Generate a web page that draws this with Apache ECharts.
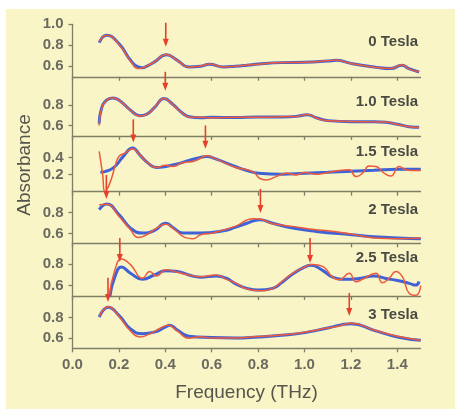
<!DOCTYPE html>
<html>
<head>
<meta charset="utf-8">
<script src="https://cdn.jsdelivr.net/npm/echarts@6/dist/echarts.min.js"></script>
<style>
  html, body { margin: 0; padding: 0; background: #fff; }
  #chart { width: 455px; height: 409px; }
</style>
</head>
<body>
<div id="chart"></div>
<script>
// panel labels
const panelNames = ['0 Tesla', '1.0 Tesla', '1.5 Tesla', '2 Tesla', '2.5 Tesla', '3 Tesla'];

// x ticks (THz)
const xTicks = [0, 0.2, 0.4, 0.6, 0.8, 1.0, 1.2, 1.4];

// y ticks / ranges for each panel
const yTicks = [[0.6, 0.8, 1.0], [0.6, 0.8], [0.2, 0.4], [0.6, 0.8], [0.6, 0.8], [0.6, 0.8]];
const yMin = [0.5, 0.5, 0, 0.509, 0.504, 0.503];
const yMax = [1.0, 1.07, 0.65, 1.0, 0.996, 1.01];

// fit curves (blue) and measured data (red), [freq, absorbance]
const fit0T = [[0.115,0.825],[0.147,0.895],[0.2,0.816],[0.25,0.657],[0.283,0.594],[0.302,0.587],[0.319,0.6],[0.352,0.64],[0.405,0.71],[0.452,0.657],[0.502,0.594],[0.552,0.6],[0.59,0.62],[0.651,0.594],[0.701,0.6],[0.752,0.61],[0.802,0.622],[0.902,0.635],[1.002,0.638],[1.1,0.65],[1.136,0.657],[1.2,0.628],[1.3,0.594],[1.372,0.578],[1.42,0.61],[1.45,0.578],[1.494,0.546]];
const data0T = [[0.115,0.83],[0.147,0.895],[0.2,0.81],[0.25,0.65],[0.283,0.578],[0.302,0.584],[0.319,0.6],[0.352,0.64],[0.405,0.712],[0.452,0.655],[0.502,0.592],[0.552,0.602],[0.59,0.622],[0.651,0.594],[0.701,0.6],[0.752,0.612],[0.802,0.62],[0.902,0.636],[1.002,0.638],[1.1,0.652],[1.136,0.66],[1.2,0.626],[1.3,0.592],[1.372,0.578],[1.42,0.614],[1.45,0.576],[1.494,0.546]];

const fit1T = [[0.115,0.62],[0.125,0.765],[0.147,0.845],[0.173,0.867],[0.201,0.845],[0.25,0.749],[0.29,0.695],[0.319,0.708],[0.352,0.77],[0.395,0.86],[0.433,0.803],[0.476,0.717],[0.502,0.686],[0.552,0.676],[0.601,0.68],[0.701,0.678],[0.802,0.683],[0.902,0.683],[0.964,0.689],[1.013,0.705],[1.05,0.676],[1.101,0.648],[1.202,0.638],[1.3,0.638],[1.351,0.632],[1.401,0.613],[1.451,0.59],[1.494,0.584]];
const data1T = [[0.115,0.6],[0.125,0.76],[0.147,0.845],[0.173,0.868],[0.201,0.843],[0.25,0.748],[0.29,0.692],[0.319,0.706],[0.352,0.77],[0.395,0.862],[0.433,0.8],[0.476,0.715],[0.502,0.684],[0.552,0.68],[0.601,0.676],[0.701,0.68],[0.802,0.68],[0.902,0.686],[0.964,0.688],[1.013,0.708],[1.05,0.674],[1.101,0.646],[1.202,0.64],[1.3,0.636],[1.351,0.634],[1.401,0.61],[1.451,0.59],[1.494,0.582]];

const fit15T = [[0.12,0.227],[0.15,0.243],[0.183,0.294],[0.219,0.412],[0.259,0.51],[0.29,0.43],[0.326,0.333],[0.362,0.282],[0.402,0.294],[0.452,0.325],[0.502,0.365],[0.552,0.4],[0.577,0.41],[0.62,0.38],[0.701,0.294],[0.752,0.247],[0.802,0.216],[0.902,0.204],[1.002,0.216],[1.101,0.227],[1.202,0.24],[1.3,0.25],[1.401,0.263],[1.501,0.263]];
const data15T = [[0.115,0.47],[0.13,0.2],[0.14,0.0],[0.161,0.1],[0.183,0.29],[0.2,0.41],[0.226,0.45],[0.259,0.5],[0.29,0.43],[0.326,0.333],[0.362,0.282],[0.402,0.31],[0.433,0.294],[0.476,0.341],[0.519,0.353],[0.552,0.39],[0.577,0.42],[0.62,0.38],[0.701,0.286],[0.777,0.235],[0.806,0.157],[0.835,0.137],[0.878,0.176],[0.921,0.216],[0.964,0.196],[1.002,0.224],[1.05,0.204],[1.101,0.224],[1.15,0.247],[1.193,0.255],[1.222,0.176],[1.25,0.216],[1.279,0.3],[1.308,0.294],[1.343,0.216],[1.372,0.184],[1.408,0.294],[1.437,0.255],[1.465,0.247],[1.501,0.247]];

const fit2T = [[0.115,0.829],[0.147,0.883],[0.201,0.78],[0.25,0.654],[0.302,0.606],[0.352,0.629],[0.402,0.70],[0.433,0.66],[0.476,0.606],[0.552,0.606],[0.651,0.629],[0.701,0.66],[0.752,0.70],[0.806,0.733],[0.863,0.70],[0.949,0.654],[1.05,0.622],[1.202,0.59],[1.3,0.571],[1.401,0.559],[1.501,0.552]];
const data2T = [[0.115,0.875],[0.147,0.88],[0.201,0.765],[0.25,0.638],[0.283,0.565],[0.319,0.59],[0.362,0.654],[0.402,0.69],[0.441,0.638],[0.484,0.565],[0.519,0.552],[0.552,0.59],[0.601,0.606],[0.701,0.67],[0.777,0.743],[0.806,0.74],[0.863,0.695],[0.949,0.67],[1.05,0.638],[1.101,0.629],[1.202,0.597],[1.3,0.559],[1.401,0.552],[1.501,0.559]];

const fit25T = [[0.161,0.5],[0.183,0.686],[0.211,0.775],[0.25,0.717],[0.302,0.66],[0.352,0.70],[0.402,0.74],[0.452,0.733],[0.502,0.70],[0.552,0.68],[0.62,0.69],[0.663,0.67],[0.701,0.62],[0.752,0.575],[0.802,0.559],[0.863,0.575],[0.902,0.629],[0.949,0.71],[1.002,0.775],[1.028,0.79],[1.078,0.743],[1.121,0.68],[1.179,0.66],[1.236,0.668],[1.3,0.69],[1.351,0.668],[1.401,0.648],[1.451,0.622],[1.48,0.606],[1.494,0.64]];
const data25T = [[0.158,0.5],[0.183,0.75],[0.211,0.85],[0.25,0.797],[0.302,0.67],[0.333,0.733],[0.362,0.69],[0.402,0.75],[0.452,0.725],[0.502,0.70],[0.552,0.684],[0.62,0.70],[0.663,0.659],[0.701,0.628],[0.752,0.569],[0.806,0.553],[0.863,0.575],[0.902,0.638],[0.949,0.716],[1.002,0.775],[1.035,0.797],[1.078,0.78],[1.121,0.68],[1.15,0.656],[1.193,0.716],[1.222,0.638],[1.25,0.66],[1.308,0.716],[1.336,0.628],[1.365,0.669],[1.394,0.733],[1.422,0.684],[1.451,0.53],[1.48,0.51],[1.501,0.6]];

const fit3T = [[0.115,0.806],[0.154,0.9],[0.201,0.82],[0.25,0.69],[0.302,0.645],[0.352,0.66],[0.402,0.71],[0.419,0.726],[0.452,0.68],[0.502,0.62],[0.601,0.607],[0.701,0.603],[0.802,0.613],[0.902,0.629],[1.002,0.655],[1.101,0.70],[1.202,0.742],[1.3,0.677],[1.401,0.613],[1.501,0.58]];
const data3T = [[0.115,0.81],[0.154,0.905],[0.201,0.81],[0.25,0.67],[0.29,0.613],[0.33,0.64],[0.38,0.70],[0.413,0.726],[0.452,0.67],[0.502,0.6],[0.55,0.615],[0.601,0.603],[0.701,0.603],[0.802,0.618],[0.902,0.632],[1.002,0.66],[1.101,0.70],[1.15,0.72],[1.202,0.745],[1.3,0.68],[1.401,0.62],[1.501,0.58]];

// red arrows per panel: [freq, tail, tip]
const arrows0T = [[0.402, 1.015, 0.787]];
const arrows1T = [[0.400, 1.118, 0.935]];
const arrows15T = [[0.262, 0.844, 0.573], [0.573, 0.773, 0.502]];
const arrows2T = [[0.146, 1.159, 0.931], [0.81, 1.026, 0.798]];
const arrows25T = [[0.204, 1.046, 0.822], [1.024, 1.046, 0.812]];
const arrows3T = [[0.153, 1.186, 0.952], [1.193, 1.04, 0.817]];

const fits = [fit0T, fit1T, fit15T, fit2T, fit25T, fit3T];
const meas = [data0T, data1T, data15T, data2T, data25T, data3T];
const arrows = [arrows0T, arrows1T, arrows15T, arrows2T, arrows25T, arrows3T];

const edges = [24.3, 76.8, 136, 191.7, 243.3, 296, 348.3];
const labelY = [41.7, 101.7, 151.7, 210, 257.7, 315];

const axisColor = '#7f7f68';
const textColor = '#55554c';
const font = 'Liberation Sans, Arial, sans-serif';
const arrowColor = '#e6402a';

const myChart = echarts.init(document.getElementById('chart'));

const grid = [], xAxis = [], yAxis = [], series = [];
for (let i = 0; i < 6; i++) {
  const last = i === 5;
  grid.push({ left: 72.5, width: 348, top: edges[i], height: edges[i + 1] - edges[i] });
  xAxis.push({
    type: 'value', gridIndex: i, min: 0, max: 1.5,
    axisLine: { lineStyle: { color: axisColor, width: 1.3 } },
    axisTick: { length: 4, lineStyle: { color: axisColor, width: 1.3 }, customValues: xTicks },
    axisLabel: {
      show: last, customValues: xTicks, margin: 9,
      formatter: (v) => v.toFixed(1),
      color: '#6a6a60', fontSize: 15, fontWeight: 'bold', fontFamily: font
    },
    splitLine: { show: false },
    name: last ? 'Frequency (THz)' : '',
    nameLocation: 'middle', nameGap: 35,
    nameTextStyle: { color: textColor, fontSize: 19, fontFamily: font }
  });
  yAxis.push({
    type: 'value', gridIndex: i, min: yMin[i], max: yMax[i],
    axisLine: { show: true, lineStyle: { color: axisColor, width: 1.3 } },
    axisTick: { show: true, length: 4, lineStyle: { color: axisColor, width: 1.3 }, customValues: yTicks[i] },
    axisLabel: {
      customValues: yTicks[i], margin: 9,
      formatter: (v) => v.toFixed(1),
      color: '#6a6a60', fontSize: 15, fontWeight: 'bold', fontFamily: font
    },
    splitLine: { show: false }
  });
  series.push({
    type: 'line', xAxisIndex: i, yAxisIndex: i, data: fits[i],
    smooth: 0.5, showSymbol: false, z: 2,
    lineStyle: { color: '#3f62d6', width: 3 }
  });
  series.push({
    type: 'line', xAxisIndex: i, yAxisIndex: i, data: meas[i],
    smooth: 0.5, showSymbol: false, z: 3,
    lineStyle: { color: '#ee5a3c', width: 1.5 }
  });
  series.push({
    type: 'custom', xAxisIndex: i, yAxisIndex: i, data: arrows[i], z: 4,
    encode: { x: 0, y: [1, 2] },
    renderItem: (params, api) => {
      const a = api.coord([api.value(0), api.value(1)]);
      const b = api.coord([api.value(0), api.value(2)]);
      return {
        type: 'group',
        children: [
          { type: 'line', shape: { x1: a[0], y1: a[1], x2: b[0], y2: b[1] - 6 },
            style: { stroke: arrowColor, lineWidth: 1.6 } },
          { type: 'polygon', shape: { points: [[b[0] - 3, b[1] - 8], [b[0] + 3, b[1] - 8], [b[0], b[1]]] },
            style: { fill: arrowColor } }
        ]
      };
    }
  });
}

const graphic = [
  { type: 'rect', left: 6, top: 9, shape: { width: 449, height: 400 }, style: { fill: '#f9f5c6' }, z: -10, silent: true },
  { type: 'text', x: 25, y: 165, rotation: Math.PI / 2,
    style: { text: 'Absorbance', fill: textColor, fontSize: 19, fontFamily: font, align: 'center', verticalAlign: 'middle' } }
];
panelNames.forEach((name, i) => {
  graphic.push({
    type: 'text', x: 418, y: labelY[i],
    style: { text: name, fill: '#4a4a44', fontSize: 15, fontWeight: 'bold', fontFamily: font, align: 'right', verticalAlign: 'middle' }
  });
});

myChart.setOption({
  animation: false,
  backgroundColor: '#ffffff',
  grid, xAxis, yAxis, series, graphic
});
</script>
</body>
</html>
